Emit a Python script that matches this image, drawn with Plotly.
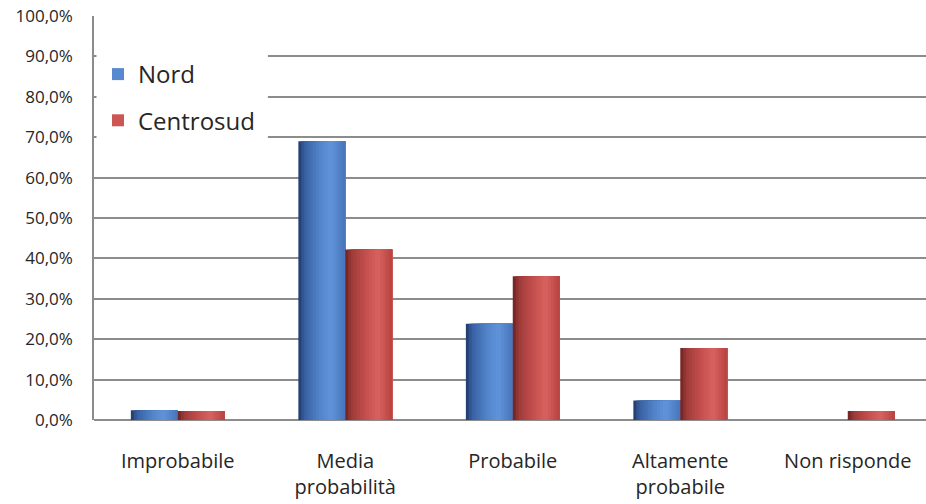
import plotly.graph_objects as go

# Response categories and percentage shares per area
categories = ["Improbabile", "Media<br>probabilità", "Probabile", "Altamente<br>probabile", "Non risponde"]
nord = [2.4, 69.0, 23.8, 4.8, 0.0]
centrosud = [2.2, 42.2, 35.6, 17.8, 2.2]
y_ticks = [0, 10, 20, 30, 40, 50, 60, 70, 80, 90, 100]
y_tick_labels = ["0,0%", "10,0%", "20,0%", "30,0%", "40,0%", "50,0%",
                 "60,0%", "70,0%", "80,0%", "90,0%", "100,0%"]

FONT = "Open Sans"
N_STRIPS = 16
BAR_W = 0.28

# horizontal shading profiles (position across bar -> rgb)
BLUE_STOPS = [(0.0, (30, 55, 100)), (0.12, (55, 95, 160)), (0.45, (82, 132, 202)),
              (0.7, (96, 148, 218)), (1.0, (72, 116, 186))]
RED_STOPS = [(0.0, (105, 32, 32)), (0.12, (155, 58, 56)), (0.45, (198, 80, 78)),
             (0.7, (216, 98, 95)), (1.0, (182, 66, 63))]


def shade(stops, t):
    for (t0, c0), (t1, c1) in zip(stops, stops[1:]):
        if t0 <= t <= t1:
            f = (t - t0) / (t1 - t0)
            r, g, b = (round(a + (bb - a) * f) for a, bb in zip(c0, c1))
            return f"rgb({r},{g},{b})"
    r, g, b = stops[-1][1]
    return f"rgb({r},{g},{b})"


x_idx = list(range(len(categories)))
fig = go.Figure()

for name, values, stops, base, group in [
    ("Nord", nord, BLUE_STOPS, -BAR_W, "g1"),
    ("Centrosud", centrosud, RED_STOPS, 0.0, "g2"),
]:
    sw = BAR_W / N_STRIPS
    for i in range(N_STRIPS):
        t = (i + 0.5) / N_STRIPS
        # each strip runs to the bar's right edge; the next one covers the rest
        fig.add_trace(go.Bar(
            x=x_idx, y=values,
            offset=base + i * sw, width=BAR_W - i * sw,
            marker=dict(color=shade(stops, t), line=dict(width=0)),
            name=name, legendgroup=group,
            showlegend=(i == N_STRIPS // 2),
            hoverinfo="skip" if i != N_STRIPS // 2 else None,
        ))

# white panel behind the legend
fig.add_shape(type="rect", xref="paper", yref="y",
              x0=0.003, x1=0.209, y0=67.5, y1=94,
              fillcolor="white", line=dict(width=0), layer="above")

fig.update_layout(
    width=926, height=504,
    margin=dict(l=94, r=0, t=16, b=84, autoexpand=False),
    paper_bgcolor="white", plot_bgcolor="white",
    barmode="overlay",
    font=dict(family=FONT, color="#262626"),
    legend=dict(
        xref="paper", yref="paper",
        x=4 / 832, y=1 - 36 / 404, xanchor="left", yanchor="top",
        bgcolor="rgba(0,0,0,0)", borderwidth=0,
        font=dict(size=24, family=FONT, color="#262626"),
        tracegroupgap=12, itemwidth=30,
    ),
    xaxis=dict(
        tickmode="array", tickvals=x_idx, ticktext=categories,
        range=[-0.5, 4.467],
        showgrid=False, zeroline=False,
        showline=False, ticks="",
        tickfont=dict(size=20, family=FONT, color="#262626"),
        ticklabelstandoff=27, ticklabeloverflow="allow",
    ),
    yaxis=dict(
        range=[0, 100], tickmode="array",
        tickvals=y_ticks, ticktext=y_tick_labels,
        showgrid=True, gridcolor="#8c8c8c", gridwidth=1.5,
        zeroline=True, zerolinecolor="#8c8c8c", zerolinewidth=1.5,
        showline=True, linecolor="#8c8c8c", linewidth=1.5,
        ticks="",
        tickfont=dict(size=17, family=FONT, color="#262626"),
        ticklabelstandoff=16, ticklabeloverflow="allow",
    ),
)

fig.write_html("out.html")
